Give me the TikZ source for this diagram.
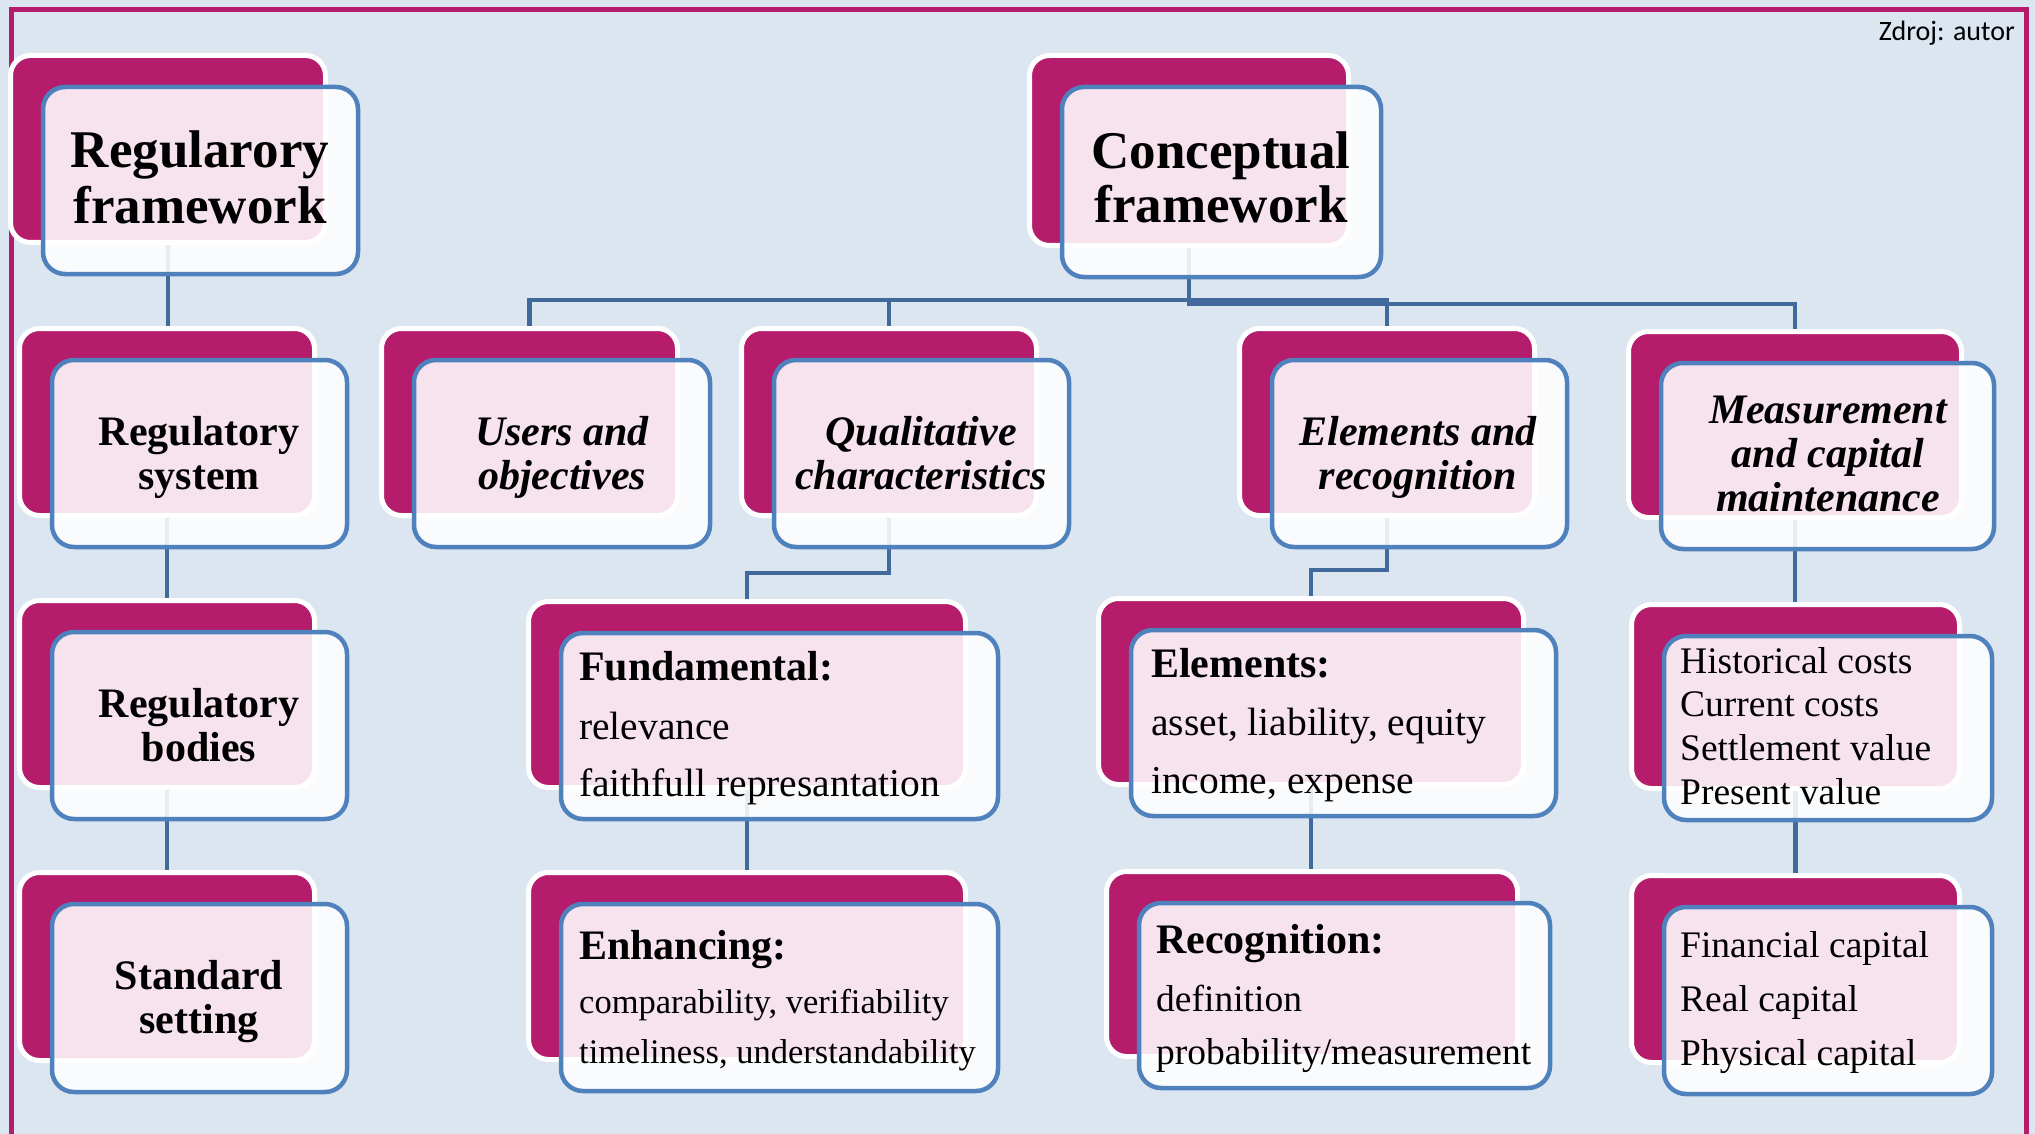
\documentclass[tikz,border=0pt]{standalone}
\usepackage{fontspec}
\setmainfont{Liberation Serif}
\newfontfamily\notefont{Carlito}
\definecolor{pagebg}{HTML}{DCE6F1}
\definecolor{berry}{HTML}{B51C6B}
\definecolor{edgeblue}{HTML}{4F81BD}
\definecolor{linkblue}{HTML}{41699B}

\pgfdeclarelayer{bottom}
\pgfdeclarelayer{links}
\pgfsetlayers{bottom,links,main}

\tikzset{
  backbox/.style={rectangle, rounded corners=20pt, fill=berry, draw=white, line width=5pt, inner sep=0pt},
  frontbox/.style={rectangle, rounded corners=22pt, fill=white, fill opacity=0.88, draw=edgeblue, draw opacity=1, line width=4.5pt, inner sep=0pt},
  conn/.style={draw=linkblue, line width=4.5pt},
  ttl/.style={anchor=base, inner sep=0pt, font=\bfseries\fontsize{53}{56}\selectfont},
  sub/.style={anchor=base, inner sep=0pt, font=\bfseries\fontsize{42}{44}\selectfont},
  subi/.style={anchor=base, inner sep=0pt, font=\bfseries\itshape\fontsize{42}{44}\selectfont},
  head/.style={anchor=base west, inner sep=0pt, font=\bfseries\fontsize{42}{44}\selectfont},
  item/.style={anchor=base west, inner sep=0pt, font=\fontsize{39.5}{44}\selectfont},
  itemsm/.style={anchor=base west, inner sep=0pt, font=\fontsize{34.5}{40}\selectfont},
  itemmd/.style={anchor=base west, inner sep=0pt, font=\fontsize{37.5}{42}\selectfont},
}

% a card: magenta back plate (x1,y1)-(x2,y2) and a translucent front panel shifted down-right
\newcommand\stackcard[5]{%
  \node[backbox, minimum width={(#4-#2+5)*1pt}, minimum height={(#5-#3+5)*1pt}]
    (#1b) at ({(#2+#4)/2},{(#3+#5)/2}) {};
  \node[frontbox, minimum width={(#4-#2+5)*1pt}, minimum height={(#5-#3+5)*1pt}]
    (#1f) at ({(#2+#4)/2+32.5},{(#3+#5)/2+31.5}) {};
}

\begin{document}
\begin{tikzpicture}[x=1pt,y=-1pt]
\useasboundingbox (0,0) rectangle (2035,1134);
\begin{pgfonlayer}{bottom}
  \fill[pagebg] (0,0) rectangle (2035,1134);
  \draw[berry, line width=5pt] (11,1140) -- (11,10) -- (2026,10) -- (2026,1140);
\end{pgfonlayer}

\node[anchor=base east, inner sep=0pt, font=\notefont\fontsize{28}{30}\selectfont] (src) at (2015,41) {Zdroj: autor};

% left branch
\stackcard{rf}{13}{58}{323}{240}
\stackcard{rs}{22}{331}{312}{513}
\stackcard{rb}{22}{603}{312}{785}
\stackcard{ss}{22}{875}{312}{1058}

% conceptual branch
\stackcard{cf}{1032}{58}{1346}{243}
\stackcard{uo}{384}{331}{675}{513}
\stackcard{qc}{744}{331}{1034}{513}
\stackcard{er}{1242}{331}{1532}{513}
\stackcard{mc}{1631}{334}{1959}{515}
\stackcard{fd}{531}{604}{963}{785}
\stackcard{en}{531}{875}{963}{1057}
\stackcard{el}{1101}{601}{1521}{782}
\stackcard{rc}{1109}{874}{1515}{1054}
\stackcard{hc}{1634}{607}{1957}{786}
\stackcard{kc}{1634}{878}{1957}{1060}

% titles
\node[ttl] (rft1) at (200,168) {Regularory};
\node[ttl] (rft2) at (200,224) {framework};
\node[ttl] (cft1) at (1221,169) {Conceptual};
\node[ttl] (cft2) at (1221,223) {framework};

\node[sub] (rst1) at (199,445) {Regulatory};
\node[sub] (rst2) at (199,489) {system};
\node[sub] (rbt1) at (199,717) {Regulatory};
\node[sub] (rbt2) at (199,761) {bodies};
\node[sub] (sst1) at (199,989) {Standard};
\node[sub] (sst2) at (199,1033) {setting};

\node[subi] (uot1) at (562,445) {Users and};
\node[subi] (uot2) at (562,489) {objectives};
\node[subi] (qct1) at (921,445) {Qualitative};
\node[subi] (qct2) at (921,489) {characteristics};
\node[subi] (ert1) at (1418,445) {Elements and};
\node[subi] (ert2) at (1418,489) {recognition};
\node[subi] (mct1) at (1828,423) {Measurement};
\node[subi] (mct2) at (1828,467) {and capital};
\node[subi] (mct3) at (1828,511) {maintenance};

% lists
\node[head] (fdt1) at (579,680) {Fundamental:};
\node[item] (fdt2) at (579,739) {relevance};
\node[item] (fdt3) at (579,796) {faithfull represantation};

\node[head] (ent1) at (579,959) {Enhancing:};
\node[itemsm] (ent2) at (579,1013) {comparability, verifiability};
\node[itemsm] (ent3) at (579,1063) {timeliness, understandability};

\node[head] (elt1) at (1151,677) {Elements:};
\node[item] (elt2) at (1151,735) {asset, liability, equity};
\node[item] (elt3) at (1151,793) {income, expense};

\node[head] (rct1) at (1156,953) {Recognition:};
\node[itemmd] (rct2) at (1156,1011) {definition};
\node[itemmd] (rct3) at (1156,1064) {probability/measurement};

\node[itemmd] (hct1) at (1680,673) {Historical costs};
\node[itemmd] (hct2) at (1680,716) {Current costs};
\node[itemmd] (hct3) at (1680,760) {Settlement value};
\node[itemmd] (hct4) at (1680,804) {Present value};

\node[itemmd] (kct1) at (1680,957) {Financial capital};
\node[itemmd] (kct2) at (1680,1011) {Real capital};
\node[itemmd] (kct3) at (1680,1065) {Physical capital};

% connectors, kept below the cards
\coordinate (busA) at (0,300);
\coordinate (busB) at (0,304);
\coordinate (kneeQ) at (0,573);
\coordinate (kneeE) at (0,570);
\begin{pgfonlayer}{links}
  \draw[conn] (rfb.south) -- (rfb.south |- rsb.north);
  \draw[conn] (rsb.south) -- (rsb.south |- rbb.north);
  \draw[conn] (rbb.south) -- (rbb.south |- ssb.north);
  \draw[conn] (cfb.south) -- (cfb.south |- busA) -| (uob.north);
  \draw[conn] (cfb.south |- busA) -| (qcb.north);
  \draw[conn] (cfb.south |- busA) -| (erb.north);
  \draw[conn] (cfb.south) -- (cfb.south |- busB) -| (mcb.north);
  \draw[conn] (qcb.south) -- (qcb.south |- kneeQ) -| (fdb.north);
  \draw[conn] (fdb.south) -- (fdb.south |- enb.north);
  \draw[conn] (erb.south) -- (erb.south |- kneeE) -| (elb.north);
  \draw[conn] (elb.south) -- (elb.south |- rcb.north);
  \draw[conn] (mcb.south) -- (mcb.south |- hcb.north);
  \draw[conn] (hcb.south) -- (hcb.south |- kcb.north);
\end{pgfonlayer}
\end{tikzpicture}
\end{document}
